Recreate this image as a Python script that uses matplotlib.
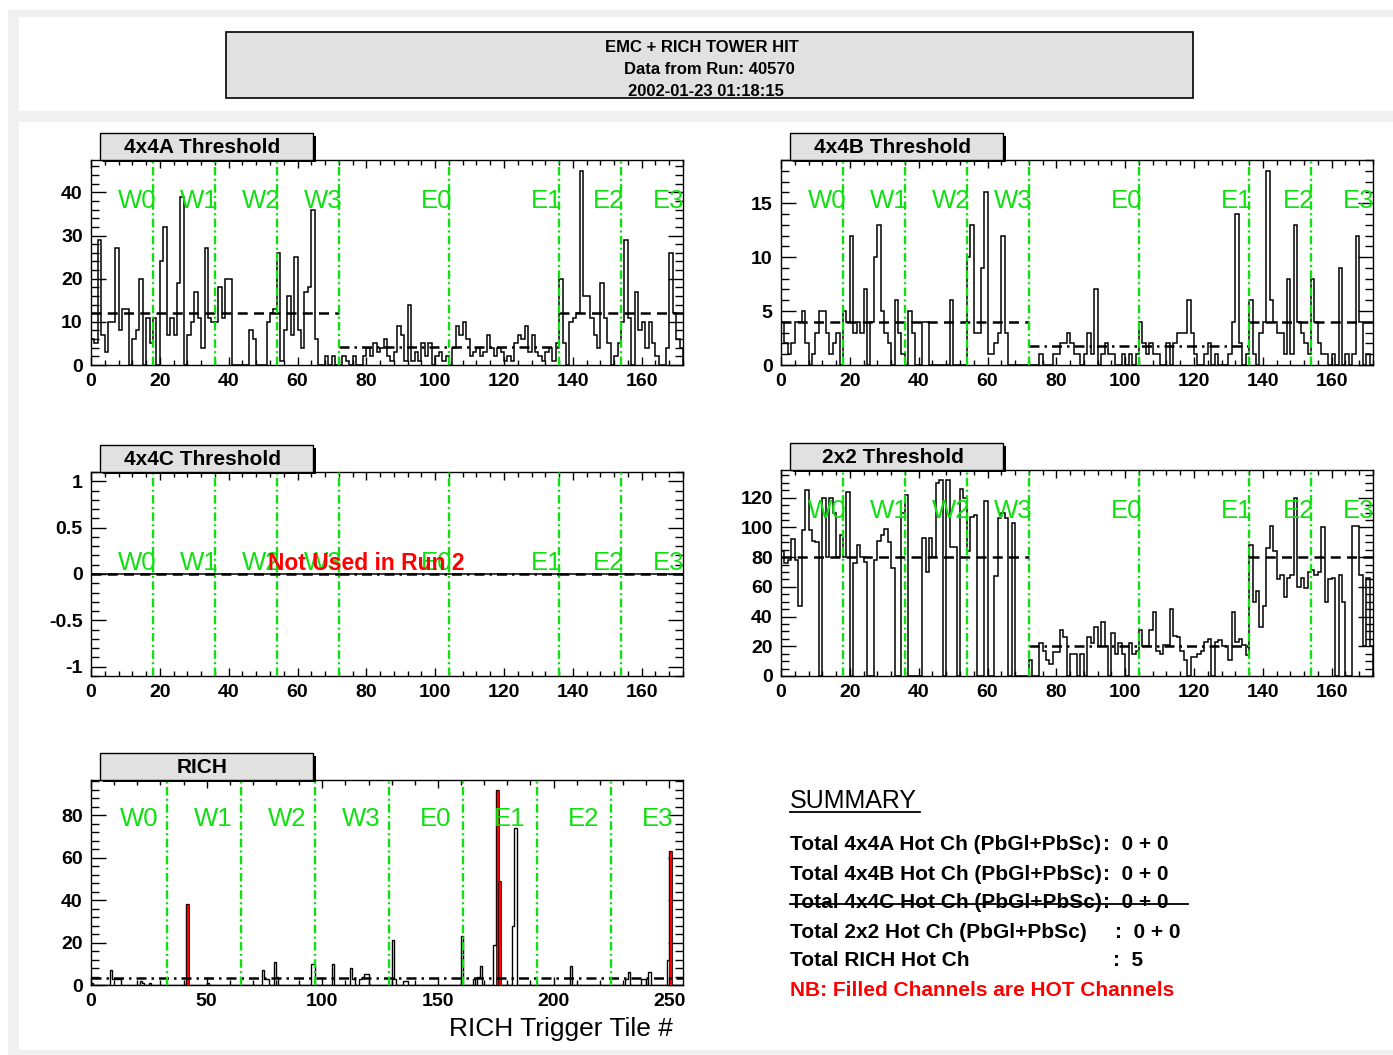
import numpy as np
import matplotlib.pyplot as plt
from matplotlib.patches import Rectangle
from matplotlib.ticker import MultipleLocator, FuncFormatter
from matplotlib.transforms import blended_transform_factory

# ---- data -------------------------------------------------------------
sectors = ['W0', 'W1', 'W2', 'W3', 'E0', 'E1', 'E2', 'E3']
emc_bounds = [18, 36, 54, 72, 104, 136, 154, 172]
rich_bounds = [33, 65, 97, 129, 161, 193, 225]
rich_label_x = [21, 53, 85, 117, 149, 181, 213, 245]

hits_4x4a = [
    6, 5, 29, 7, 3, 10, 10, 27, 8, 13, 13, 0, 6, 8, 20, 0, 11, 5, 11, 0,
    24, 32, 7, 11, 7, 19, 39, 0, 7, 10, 17, 11, 4, 27, 11, 10, 10, 18, 11, 20,
    20, 0, 0, 0, 0, 0, 8, 6, 0, 0, 0, 10, 12, 13, 26, 1, 8, 16, 7, 25,
    8, 4, 17, 18, 36, 6, 0, 0, 2, 0, 2, 0, 0, 2, 1, 0, 2, 0, 0, 2,
    4, 2, 5, 3, 4, 6, 2, 1, 3, 9, 7, 1, 14, 1, 3, 1, 5, 2, 5, 0,
    2, 3, 1, 2, 0, 4, 9, 7, 10, 6, 2, 3, 4, 2, 3, 7, 4, 2, 4, 3,
    1, 2, 1, 5, 7, 6, 9, 3, 7, 3, 2, 1, 3, 4, 1, 5, 20, 5, 0, 10,
    11, 12, 45, 16, 16, 11, 7, 4, 19, 11, 5, 0, 2, 5, 10, 29, 11, 0, 17, 8,
    10, 4, 10, 5, 2, 0, 0, 4, 26, 12, 6, 4,
]
hits_4x4b = [
    4, 2, 1, 2, 4, 4, 5, 2, 0, 1, 3, 5, 5, 3, 1, 2, 3, 0, 5, 4,
    12, 3, 4, 3, 7, 0, 4, 10, 13, 5, 3, 2, 0, 6, 3, 1, 0, 5, 3, 0,
    0, 4, 4, 0, 0, 0, 0, 0, 0, 6, 0, 0, 0, 0, 10, 13, 3, 3, 9, 16,
    1, 1, 2, 3, 12, 3, 0, 0, 0, 0, 0, 0, 0, 0, 0, 1, 0, 0, 0, 1,
    1, 2, 2, 3, 2, 1, 1, 0, 1, 3, 1, 7, 0, 1, 2, 1, 1, 0, 0, 1,
    0, 1, 0, 1, 4, 2, 1, 2, 1, 1, 0, 0, 2, 0, 2, 3, 3, 3, 6, 3,
    1, 0, 0, 1, 2, 0, 1, 0, 0, 0, 1, 4, 14, 2, 0, 1, 6, 1, 0, 3,
    4, 18, 6, 4, 3, 3, 1, 8, 1, 13, 4, 3, 2, 1, 8, 4, 2, 1, 1, 0,
    1, 0, 9, 0, 1, 0, 1, 12, 4, 0, 1, 0,
]
hits_4x4c = [0] * 172
hits_2x2 = [
    84, 76, 78, 92, 78, 47, 98, 125, 98, 91, 90, 0, 120, 80, 120, 110, 80, 95, 80, 124,
    0, 76, 88, 80, 77, 0, 0, 78, 91, 95, 99, 90, 73, 0, 0, 110, 122, 0, 0, 0,
    0, 93, 70, 93, 80, 130, 132, 0, 132, 87, 87, 0, 126, 120, 84, 107, 108, 0, 0, 118,
    0, 0, 67, 106, 110, 106, 0, 103, 0, 0, 0, 0, 11, 0, 0, 22, 17, 11, 8, 16,
    16, 31, 26, 0, 15, 15, 0, 15, 0, 26, 22, 33, 20, 36, 20, 0, 29, 15, 22, 15,
    0, 22, 15, 17, 31, 20, 20, 31, 43, 17, 15, 21, 21, 45, 27, 26, 17, 11, 0, 13,
    13, 15, 17, 23, 25, 0, 23, 24, 20, 20, 11, 43, 23, 25, 21, 14, 88, 50, 57, 33,
    47, 86, 101, 84, 65, 68, 53, 66, 68, 120, 60, 66, 59, 70, 71, 68, 70, 100, 50, 65,
    66, 0, 68, 50, 0, 0, 101, 101, 68, 20, 66, 20,
]

rich_tiles = [0, 8, 9, 10, 11, 12, 21, 22, 25, 41, 50, 74, 75, 76, 79, 80, 95, 96,
              104, 112, 113, 116, 117, 118, 119, 130, 131, 135, 136, 160, 165, 167,
              168, 174, 175, 176, 182, 183, 207, 231, 232, 238, 239, 241, 249, 250]
rich_counts = [1, 7, 3, 3, 3, 3, 2, 1, 1, 38, 1, 7, 3, 3, 11, 4, 10, 10,
               10, 8, 3, 3, 4, 5, 5, 21, 3, 2, 2, 23, 3, 4,
               9, 19, 92, 49, 28, 74, 9, 3, 6, 3, 3, 6, 12, 63]
rich_hot = [41, 175, 176, 250]

# thresholds: (PbSc, PbGl)
thr_4x4a = (12, 4.2)
thr_4x4b = (4, 1.8)
thr_4x4c = (0, 0)
thr_2x2 = (80, 20.5)
thr_rich = 3.4

summary_rows = [
    ('Total 4x4A Hot Ch (PbGl+PbSc)', ':  0 + 0', 1103),
    ('Total 4x4B Hot Ch (PbGl+PbSc)', ':  0 + 0', 1103),
    ('Total 4x4C Hot Ch (PbGl+PbSc)', ':  0 + 0', 1103),
    ('Total 2x2 Hot Ch (PbGl+PbSc)', ':  0 + 0', 1115),
    ('Total RICH Hot Ch', ':  5', 1113),
]

# ---- style ------------------------------------------------------------
W, H = 1393, 1055
plt.rcParams['font.family'] = ['Liberation Sans', 'DejaVu Sans']
plt.rcParams['font.weight'] = 'bold'
GREEN = '#10e010'
BOXGRAY = '#e1e1e1'

fig = plt.figure(figsize=(W / 100, H / 100), dpi=100)


def frect(x0, y0, x1, y1, **kw):
    r = Rectangle((x0 / W, 1 - y1 / H), (x1 - x0) / W, (y1 - y0) / H,
                  transform=fig.transFigure, **kw)
    fig.add_artist(r)
    return r


def ftext(x, y, s, **kw):
    return fig.text(x / W, 1 - y / H, s, **kw)


def fline(x0, x1, y, **kw):
    fig.add_artist(plt.Line2D([x0 / W, x1 / W], [1 - y / H, 1 - y / H],
                              transform=fig.transFigure, **kw))


# canvas background
frect(8, 10, W, H, facecolor='#f0f0f0', edgecolor='none', zorder=-10)
frect(19, 17, W, 111, facecolor='white', edgecolor='none', zorder=-9)
frect(19, 122, W, 1050, facecolor='white', edgecolor='none', zorder=-9)

# run header
frect(226, 32, 1193, 98, facecolor=BOXGRAY, edgecolor='black', lw=1.2, zorder=1)
for xx, yy, s in [(702, 47, 'EMC + RICH TOWER HIT'), (709, 69, 'Data from Run: 40570'),
                  (706, 91, '2002-01-23 01:18:15')]:
    ftext(xx, yy, s, ha='center', va='center', fontsize=12, zorder=2)


def panel(x0, y0, x1, y1, title):
    ax = fig.add_axes([x0 / W, 1 - y1 / H, (x1 - x0) / W, (y1 - y0) / H])
    bx0, bx1, by0, by1 = x0 + 9, x0 + 222, y0 - 27, y0
    frect(bx0 + 3, by0 + 3, bx1 + 3, by1 + 2, facecolor='black', edgecolor='none', zorder=3)
    frect(bx0, by0, bx1, by1, facecolor=BOXGRAY, edgecolor='black', lw=1.0, zorder=4)
    ftext((bx0 + bx1) / 2 - 4, (by0 + by1) / 2 + 1, title, ha='center', va='center',
          fontsize=15, zorder=5)
    for sp in ax.spines.values():
        sp.set_linewidth(1.0)
    ax.tick_params(which='both', direction='in', top=True, right=True,
                   labelsize=14, pad=6, width=1.0)
    ax.tick_params(axis='y', which='major', length=11)
    ax.tick_params(axis='y', which='minor', length=5.5)
    ax.tick_params(axis='x', which='major', length=6)
    ax.tick_params(axis='x', which='minor', length=3.5)
    ax.yaxis.set_major_formatter(FuncFormatter(lambda v, p: f'{v:g}'))
    ax.xaxis.set_major_formatter(FuncFormatter(lambda v, p: f'{v:g}'))
    return ax


DASH = (0, (4, 2.5))
DASHDOT = (0, (4, 2, 1, 2))
GREEN_LS = (0, (3.6, 1.4, 0.9, 1.4))


def emc_panel(x0, y0, x1, y1, title, values, ymin, ymax, ymaj, ymin_step,
              thr, label_frac):
    ax = panel(x0, y0, x1, y1, title)
    ax.set_xlim(0, 172)
    ax.set_ylim(ymin, ymax)
    ax.xaxis.set_major_locator(MultipleLocator(20))
    ax.xaxis.set_minor_locator(MultipleLocator(4))
    ax.yaxis.set_major_locator(MultipleLocator(ymaj))
    ax.yaxis.set_minor_locator(MultipleLocator(ymin_step))
    ax.stairs(values, np.arange(len(values) + 1), color='black', lw=1.1,
              baseline=0, zorder=3)
    sc, gl = thr
    for xa, xb, level, ls in [(0, 72, sc, DASH), (72, 136, gl, DASHDOT),
                              (136, 172, sc, DASH)]:
        ax.plot([xa, xb], [level, level], color='black', lw=1.8, ls=ls, zorder=4)
    tr = blended_transform_factory(ax.transData, ax.transAxes)
    for b in emc_bounds[:-1]:
        ax.axvline(b, color=GREEN, lw=1.7, ls=GREEN_LS, zorder=5)
    for b, name in zip(emc_bounds, sectors):
        xr = b + 1 if b < 172 else 172.3
        ax.text(xr, label_frac, name, transform=tr, ha='right', va='center',
                color=GREEN, fontsize=18.5, fontweight='normal', zorder=6)
    return ax


emc_panel(91, 160, 683, 365, '4x4A Threshold', hits_4x4a, 0, 47.5, 10, 2,
          thr_4x4a, 0.8)
emc_panel(781, 160, 1373, 365, '4x4B Threshold', hits_4x4b, 0, 19, 5, 1,
          thr_4x4b, 0.8)
axc = emc_panel(91, 472, 683, 676, '4x4C Threshold', hits_4x4c, -1.1, 1.1, 0.5,
                0.1, thr_4x4c, 0.554)
axc.text(80, 0.11, 'Not Used in Run 2', color='red', fontsize=16.5,
         ha='center', va='center', zorder=7)
emc_panel(781, 470, 1373, 676, '2x2 Threshold', hits_2x2, 0, 138.6, 20, 5,
          thr_2x2, 0.8)

# RICH trigger tiles
rich = np.zeros(256)
rich[rich_tiles] = rich_counts
axr = panel(91, 780, 683, 985, 'RICH')
axr.set_xlim(0, 256)
axr.set_ylim(0, 96.6)
axr.xaxis.set_major_locator(MultipleLocator(50))
axr.xaxis.set_minor_locator(MultipleLocator(10))
axr.yaxis.set_major_locator(MultipleLocator(20))
axr.yaxis.set_minor_locator(MultipleLocator(4))
axr.stairs(rich, np.arange(257), color='black', lw=1.0, baseline=0, zorder=3)
# hot channels are filled red on top of the outline
axr.bar(rich_hot, rich[rich_hot], width=1.3, align='edge', color='red',
        edgecolor='black', lw=0.5, zorder=4)
axr.axhline(thr_rich, color='black', lw=1.8, ls=DASHDOT, zorder=4)
trr = blended_transform_factory(axr.transData, axr.transAxes)
for b in rich_bounds:
    axr.axvline(b, color=GREEN, lw=1.7, ls=GREEN_LS, zorder=5)
for xc, name in zip(rich_label_x, sectors):
    axr.text(xc, 0.81, name, transform=trr, ha='center', va='center',
             color=GREEN, fontsize=18.5, fontweight='normal', zorder=6)
ftext(673, 1029, 'RICH Trigger Tile #', ha='right', va='center',
      fontsize=19, fontweight='normal')

# summary block
ftext(790, 808, 'SUMMARY', ha='left', va='baseline', fontsize=18,
      fontweight='normal')
fline(790, 920, 812, color='black', lw=1.3)
for i, (label, value, vx) in enumerate(summary_rows):
    yy = 845 + 29 * i
    ftext(790, yy, label, ha='left', va='center', fontsize=15)
    ftext(vx, yy, value, ha='left', va='center', fontsize=15)
fline(790, 1188, 904, color='black', lw=1.3)
ftext(790, 991, 'NB: Filled Channels are HOT Channels', ha='left', va='center',
      fontsize=15, color='red')

fig.savefig('out.png', dpi=100)
